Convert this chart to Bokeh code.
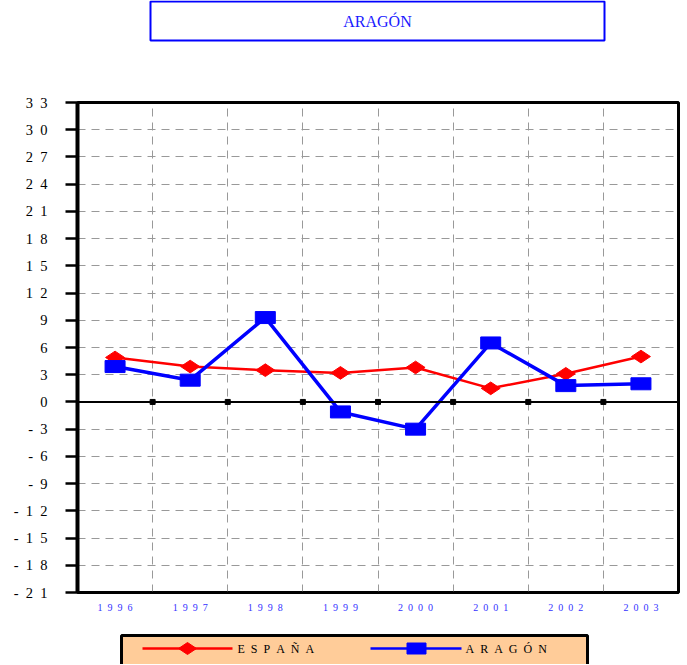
from math import pi
from bokeh.plotting import figure
from bokeh.models import Range1d, FixedTicker, Span
from bokeh.layouts import column
from bokeh.core.properties import value
from bokeh.embed import file_html
from bokeh.resources import INLINE

# ---- data ----
years = ["1996", "1997", "1998", "1999", "2000", "2001", "2002", "2003"]
espana = [4.9, 3.9, 3.5, 3.2, 3.8, 1.5, 3.1, 5.0]
aragon = [3.9, 2.4, 9.3, -1.1, -3.0, 6.5, 1.8, 2.0]
y_ticks = [-21, -18, -15, -12, -9, -6, -3, 0, 3, 6, 9, 12, 15, 18, 21, 24, 27, 30, 33]
series_names = ["ESPAÑA", "ARAGÓN"]
title_text = "ARAGÓN"

FONT = "Liberation Serif"
RED = "#FF0000"
BLUE = "#0000FF"

LEFT, FW, RIGHT = 77, 601, 5


def spaced(s, n=2):
    return ("\u00a0" * n).join(s)


xs = [i + 0.5 for i in range(len(years))]
bounds = list(range(1, len(years)))


def deco_fig(h):
    f = figure(frame_width=FW, frame_height=h,
               x_range=Range1d(LEFT, LEFT + FW), y_range=Range1d(0, h),
               x_axis_type=None, y_axis_type=None,
               min_border_left=LEFT, min_border_right=RIGHT,
               min_border_top=0, min_border_bottom=0,
               toolbar_location=None, output_backend="svg")
    f.outline_line_color = None
    return f


# ---- title figure (page y 0..45) ----
TH = 45
t = deco_fig(TH)
t.quad(left=[150], right=[604], bottom=[TH - 40], top=[TH - 1], fill_color=None,
       line_color=BLUE, line_width=2)
t.text(x=[377], y=[TH - 21], text=[title_text], text_align="center", text_baseline="middle",
       text_font=value(FONT), text_font_size="16px", text_color="#1a1aff")

# ---- main figure (page y 45..620) ----
p = figure(frame_width=FW, frame_height=490,
           x_range=Range1d(0, len(years)), y_range=Range1d(-21, 33),
           min_border_left=LEFT, min_border_right=RIGHT, min_border_top=57, min_border_bottom=28,
           toolbar_location=None, output_backend="svg")
p.outline_line_color = "black"
p.outline_line_width = 3

p.xaxis.ticker = FixedTicker(ticks=xs)
p.xaxis.major_label_overrides = {x: spaced(y) for x, y in zip(xs, years)}
p.xaxis.major_tick_out = 0
p.xaxis.major_tick_in = 0
p.xaxis.minor_tick_out = 0
p.xaxis.minor_tick_in = 0
p.xaxis.axis_line_width = 2.5
p.xaxis.major_label_text_font = FONT
p.xaxis.major_label_text_font_size = "10px"
p.xaxis.major_label_text_color = "#3333FF"
p.xaxis.major_label_standoff = 9

p.yaxis.ticker = FixedTicker(ticks=y_ticks)
p.yaxis.major_label_overrides = {v: spaced(str(v)) for v in y_ticks}
p.yaxis.major_tick_out = 12
p.yaxis.major_tick_in = 0
p.yaxis.minor_tick_out = 0
p.yaxis.minor_tick_in = 0
p.yaxis.major_tick_line_width = 2.5
p.yaxis.axis_line_width = 4
p.yaxis.major_label_text_font = FONT
p.yaxis.major_label_text_font_size = "14.5px"
p.yaxis.major_label_text_color = "black"
p.yaxis.major_label_standoff = 18

p.xgrid.ticker = FixedTicker(ticks=bounds)
for g in (p.xgrid, p.ygrid):
    g.grid_line_color = "#999999"
    g.grid_line_dash = "8 6"
    g.grid_line_width = 1
p.ygrid.ticker = FixedTicker(ticks=y_ticks)

p.add_layout(Span(location=0, dimension="width", line_color="black", line_width=2))
p.scatter(x=bounds, y=[0] * len(bounds), marker="square", size=5, color="black")

p.line(xs, espana, line_color=RED, line_width=2.5)
p.scatter(xs, espana, marker="diamond", size=19, angle=pi / 2, fill_color=RED, line_color=RED)
p.line(xs, aragon, line_color=BLUE, line_width=3.5)
p.rect(xs, aragon, width=20, height=12, width_units="screen", height_units="screen",
       fill_color=BLUE, line_color=BLUE)

# ---- legend figure (page y 620..664) ----
LH = 44
lg = deco_fig(LH)
ly = LH - 28  # page y 648
lg.quad(left=[121], right=[587], bottom=[-10], top=[LH - 15], fill_color="#FFCC99",
        line_color="black", line_width=3)
lg.line([142, 232], [ly, ly], line_color=RED, line_width=2.5)
lg.scatter([187], [ly], marker="diamond", size=18, angle=pi / 2, fill_color=RED, line_color=RED)
lg.line([370, 461], [ly, ly], line_color=BLUE, line_width=2.5)
lg.rect([416], [ly], width=19, height=11, fill_color=BLUE, line_color=BLUE)
lg.text(x=[237, 465], y=[ly, ly], text=[spaced(n) for n in series_names],
        text_align="left", text_baseline="middle", text_font=value(FONT),
        text_font_size="12px", text_color="black")

layout = column(t, p, lg)
open("out.html", "w").write(file_html(layout, INLINE))
